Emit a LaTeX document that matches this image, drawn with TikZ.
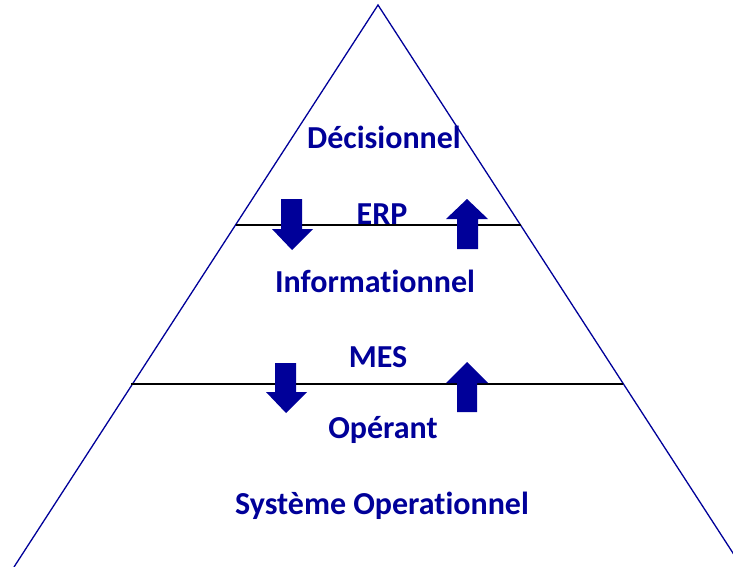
\documentclass[tikz,border=0pt]{standalone}
\usepackage{fontspec}
\setmainfont{Carlito}[RawFeature={-liga}]
\definecolor{navy}{RGB}{0,0,153}
\begin{document}
\begin{tikzpicture}[x=1pt,y=-1pt,
  lbl/.style={text=navy,font=\bfseries\fontsize{32}{36}\selectfont,inner sep=0pt,anchor=center},
  side/.style={draw=navy,line width=1.3pt},
  level/.style={draw=black,line width=1.5pt},
  blockarrow/.style={fill=navy,draw=none}]
\useasboundingbox (0,0) rectangle (733,567);
\clip (0,0) rectangle (733,567);
% triangle
\coordinate (apex) at (378,5);
\coordinate (bl) at (14,567);
\coordinate (br) at (742,567);
\draw[side] (bl) -- (apex) -- (br);
% level lines
\coordinate (erpL) at (236,225);
\coordinate (erpR) at (521,225);
\coordinate (mesL) at (131,384);
\coordinate (mesR) at (623,384);
\draw[level] (erpL) -- (erpR);
\draw[level] (mesL) -- (mesR);
% arrows ERP
\fill[blockarrow] (281,199) -- (302,199) -- (302,229) -- (313,229) -- (292,250) -- (272,229) -- (281,229) -- cycle;
\fill[blockarrow] (467,199) -- (488,219) -- (478,219) -- (478,249) -- (457,249) -- (457,219) -- (446,219) -- cycle;
% arrows MES
\fill[blockarrow] (275,363) -- (296,363) -- (296,392) -- (307,392) -- (286,413) -- (266,392) -- (275,392) -- cycle;
\fill[blockarrow] (467,362) -- (488,383) -- (477,383) -- (477,412) -- (457,412) -- (457,383) -- (446,383) -- cycle;
% labels
\node[lbl] (dec) at (384,137) {Décisionnel};
\node[lbl] (erp) at (382,214) {ERP};
\node[lbl] (inf) at (375,281) {Informationnel};
\node[lbl] (mes) at (378,357) {MES};
\node[lbl] (ope) at (383,430) {Opérant};
\node[lbl] (sys) at (382,506) {Système Operationnel};
\end{tikzpicture}
\end{document}
